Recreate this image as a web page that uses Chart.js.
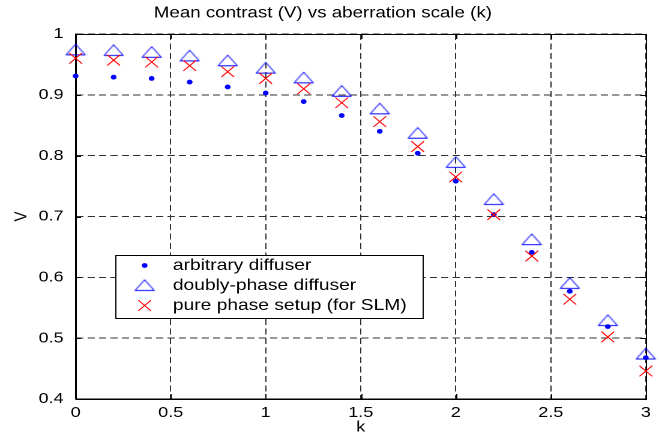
<!DOCTYPE html>
<html>
<head>
<meta charset="utf-8">
<script src="https://cdn.jsdelivr.net/npm/chart.js@4"></script>
<style>
html,body{margin:0;padding:0;background:#fff;overflow:hidden;}
#wrap{width:659px;height:438px;overflow:hidden;}
#c{display:block;transform-origin:0 0;transform:scaleX(1.2004);}
</style>
</head>
<body>
<div id="wrap"><canvas id="c" width="549" height="438"></canvas></div>
<script>
// ---- data ----
const kValues = [0, 0.2, 0.4, 0.6, 0.8, 1.0, 1.2, 1.4, 1.6, 1.8, 2.0, 2.2, 2.4, 2.6, 2.8, 3.0];
const arbitraryDiffuser = [0.931, 0.929, 0.927, 0.921, 0.913, 0.903, 0.889, 0.866, 0.840, 0.804, 0.758, 0.703, 0.641, 0.577, 0.519, 0.468];
const doublyPhaseDiffuser = [0.974, 0.973, 0.970, 0.964, 0.956, 0.944, 0.928, 0.906, 0.877, 0.837, 0.789, 0.728, 0.662, 0.590, 0.529, 0.474];
const purePhaseSetup = [0.960, 0.957, 0.954, 0.948, 0.938, 0.927, 0.910, 0.887, 0.856, 0.815, 0.765, 0.703, 0.635, 0.564, 0.502, 0.446];
const seriesLabels = ['arbitrary diffuser', 'doubly-phase diffuser', 'pure phase setup (for SLM)'];
const xTicks = [0, 0.5, 1, 1.5, 2, 2.5, 3];
const xTickLabels = ['0', '0.5', '1', '1.5', '2', '2.5', '3'];
const yTicks = [0.4, 0.5, 0.6, 0.7, 0.8, 0.9, 1];
const yTickLabels = ['0.4', '0.5', '0.6', '0.7', '0.8', '0.9', '1'];
const titleText = 'Mean contrast (V) vs aberration scale (k)';
const xTitle = 'k';
const yTitle = 'V';

// ---- marker images ----
function makeTriangle() {
  const cv = document.createElement('canvas');
  cv.width = 18; cv.height = 13;
  const g = cv.getContext('2d');
  g.strokeStyle = '#0000ff';
  g.lineWidth = 1;
  g.beginPath();
  g.moveTo(1, 11.5);
  g.lineTo(17, 11.5);
  g.lineTo(9, 0.8);
  g.closePath();
  g.stroke();
  return cv;
}
const triImg = makeTriangle();

const pts = (ys) => kValues.map((k, i) => ({x: k, y: ys[i]}));
const FONT = '"Liberation Sans", Arial, Helvetica, sans-serif';

const frame = {
  id: 'frame',
  beforeDatasetsDraw(chart) {
    const {ctx, chartArea: a, scales} = chart;
    ctx.save();
    ctx.strokeStyle = '#000';
    ctx.lineWidth = 1;
    ctx.setLineDash([]);
    ctx.strokeRect(Math.round(a.left) + 0.5, Math.round(a.top) + 0.5, Math.round(a.right - a.left), Math.round(a.bottom - a.top));
    ctx.beginPath();
    xTicks.forEach(v => {
      const px = Math.round(scales.x.getPixelForValue(v)) + 0.5;
      ctx.moveTo(px, a.bottom); ctx.lineTo(px, a.bottom - 5);
      ctx.moveTo(px, a.top); ctx.lineTo(px, a.top + 5);
    });
    yTicks.forEach(v => {
      const py = Math.round(scales.y.getPixelForValue(v)) + 0.5;
      ctx.moveTo(a.left, py); ctx.lineTo(a.left + 4.5, py);
      ctx.moveTo(a.right, py); ctx.lineTo(a.right - 4.5, py);
    });
    ctx.stroke();
    ctx.restore();
  },
  afterDraw(chart) {
    const ctx = chart.ctx;
    ctx.save();
    const bx = 96.5, by = 255.5, bw = 256, bh = 63;
    ctx.fillStyle = '#fff';
    ctx.fillRect(bx, by, bw, bh);
    ctx.strokeStyle = '#000';
    ctx.lineWidth = 1;
    ctx.strokeRect(bx, by, bw, bh);
    const mx = 120.5, tx = 144;
    const rows = [265.5, 285.5, 305.5];
    // dot
    ctx.fillStyle = '#0000ff';
    ctx.beginPath(); ctx.arc(mx, rows[0], 2.4, 0, Math.PI * 2); ctx.fill();
    // triangle
    ctx.drawImage(triImg, mx - triImg.width / 2, rows[1] - triImg.height / 2);
    // cross
    ctx.strokeStyle = '#ff0000';
    ctx.beginPath();
    const r = 5.3;
    ctx.moveTo(mx - r, rows[2] - r); ctx.lineTo(mx + r, rows[2] + r);
    ctx.moveTo(mx - r, rows[2] + r); ctx.lineTo(mx + r, rows[2] - r);
    ctx.stroke();
    ctx.fillStyle = '#000';
    ctx.font = '16px ' + FONT;
    ctx.textBaseline = 'middle';
    ctx.textAlign = 'left';
    seriesLabels.forEach((t, i) => ctx.fillText(t, tx, rows[i]));
    ctx.restore();
  }
};

new Chart(document.getElementById('c'), {
  type: 'scatter',
  data: {
    datasets: [
      {label: seriesLabels[0], data: pts(arbitraryDiffuser), pointStyle: 'circle', pointRadius: 2.4, pointBackgroundColor: '#0000ff', pointBorderWidth: 0, borderColor: '#0000ff', order: 3, clip: false},
      {label: seriesLabels[1], data: pts(doublyPhaseDiffuser), pointStyle: triImg, pointRadius: 8, order: 2, clip: false},
      {label: seriesLabels[2], data: pts(purePhaseSetup), pointStyle: 'crossRot', pointRadius: 7.5, pointBorderWidth: 1, pointBorderColor: '#ff0000', borderColor: '#ff0000', order: 1, clip: false}
    ]
  },
  options: {
    responsive: false,
    devicePixelRatio: 2,
    animation: false,
    events: [],
    layout: {padding: {top: 0, right: 11, bottom: 0, left: 0}},
    plugins: {
      legend: {display: false},
      tooltip: {enabled: false},
      title: {
        display: true, text: titleText, color: '#000',
        font: {family: FONT, size: 15.6, weight: 'normal'},
        padding: {top: 3.6, bottom: 11.7}
      }
    },
    scales: {
      x: {
        type: 'linear', min: 0, max: 3,
        afterBuildTicks: (s) => { s.ticks = xTicks.map(v => ({value: v})); },
        afterFit: (s) => { s.height = 39; },
        ticks: {color: '#000', font: {family: FONT, size: 15}, padding: 5, maxRotation: 0, autoSkip: false,
                callback: (v, i) => xTickLabels[i]},
        grid: {color: '#303030', lineWidth: 1, drawTicks: false},
        border: {display: true, color: '#000', width: 1, dash: [6, 3.5]},
        title: {display: true, text: xTitle, color: '#000', font: {family: FONT, size: 15}, padding: {top: 0, bottom: 1.5}}
      },
      y: {
        type: 'linear', min: 0.4, max: 1,
        afterBuildTicks: (s) => { s.ticks = yTicks.map(v => ({value: v})); },
        afterFit: (s) => { s.width = 63; },
        ticks: {color: '#000', font: {family: FONT, size: 15}, padding: 10, autoSkip: false,
                callback: (v, i) => yTickLabels[i]},
        grid: {color: '#303030', lineWidth: 1, drawTicks: false},
        border: {display: true, color: '#000', width: 1, dash: [6, 3.5]},
        title: {display: true, text: yTitle, color: '#000', font: {family: FONT, size: 15}, padding: {top: 9, bottom: 0}}
      }
    }
  },
  plugins: [frame]
});
</script>
</body>
</html>
